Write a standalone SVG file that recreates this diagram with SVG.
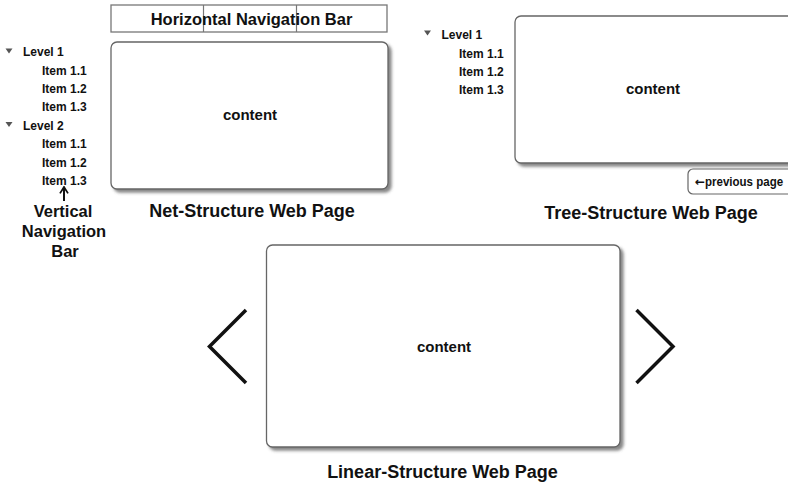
<svg xmlns="http://www.w3.org/2000/svg" width="788" height="483" viewBox="0 0 788 483">
  <style>
    text { font-family: "Liberation Sans", Arial, sans-serif; fill: #111; }
    .nav { font-size: 12px; font-weight: bold; }
    .title { font-size: 18px; font-weight: bold; text-anchor: middle; }
    .content { font-size: 15px; font-weight: bold; text-anchor: middle; }
    .box { fill: #fff; stroke: #666; stroke-width: 1.3; filter: url(#shadow); }
    .frame { fill: #fff; stroke: #777; stroke-width: 1.3; }
    .chev { fill: none; stroke: #111; stroke-width: 3.5; stroke-linecap: butt; stroke-linejoin: miter; }
    .tri { fill: #555; }
  </style>
  <defs>
    <filter id="shadow" x="-5%" y="-5%" width="115%" height="120%">
      <feDropShadow dx="3" dy="3" stdDeviation="1.6" flood-color="#555" flood-opacity="0.7"/>
    </filter>
    <marker id="openHead" viewBox="0 0 10 12" refX="9" refY="6" markerWidth="8" markerHeight="11" orient="auto" markerUnits="userSpaceOnUse">
      <path d="M1,1 L9,6 L1,11" fill="none" stroke="#111" stroke-width="2.2"/>
    </marker>
  </defs>

  <!-- Net-structure page -->
  <g id="net-hnav">
    <rect class="frame" x="111" y="5" width="276" height="27"/>
    <line x1="203.5" y1="5" x2="203.5" y2="32" stroke="#777" stroke-width="1.2"/>
    <line x1="296.5" y1="5" x2="296.5" y2="32" stroke="#777" stroke-width="1.2"/>
    <text x="251.5" y="25" style="font-size:16.5px;font-weight:bold;text-anchor:middle">Horizontal Navigation Bar</text>
  </g>
  <g id="net-content">
    <rect class="box" x="111" y="42" width="277" height="147" rx="6"/>
    <text class="content" x="250" y="120">content</text>
  </g>
  <g id="net-vnav">
    <path class="tri" d="M5.5,48.5 L12.5,48.5 L9,53.5 Z"/>
    <text class="nav" x="23" y="56">Level 1</text>
    <text class="nav" x="42" y="75">Item 1.1</text>
    <text class="nav" x="42" y="93">Item 1.2</text>
    <text class="nav" x="42" y="111">Item 1.3</text>
    <path class="tri" d="M5.5,122 L12.5,122 L9,127 Z"/>
    <text class="nav" x="23" y="129.5">Level 2</text>
    <text class="nav" x="42" y="148">Item 1.1</text>
    <text class="nav" x="42" y="166.5">Item 1.2</text>
    <text class="nav" x="42" y="185">Item 1.3</text>
  </g>
  <g id="net-vnav-label">
    <text x="63" y="217" style="font-size:16.5px;font-weight:bold;text-anchor:middle">Vertical</text>
    <text x="64" y="237" style="font-size:16.5px;font-weight:bold;text-anchor:middle">Navigation</text>
    <text x="65" y="257" style="font-size:16.5px;font-weight:bold;text-anchor:middle">Bar</text>
  </g>
  <g id="connectors">
    <line x1="64" y1="201" x2="64" y2="187" stroke="#111" stroke-width="2" marker-end="url(#openHead)"/>
  </g>
  <text class="title" x="252" y="217">Net-Structure Web Page</text>

  <!-- Tree-structure page -->
  <g id="tree-nav">
    <path class="tri" d="M424,30.5 L431,30.5 L427.5,35.5 Z"/>
    <text class="nav" x="441.5" y="39">Level 1</text>
    <text class="nav" x="459" y="57.5">Item 1.1</text>
    <text class="nav" x="459" y="75.5">Item 1.2</text>
    <text class="nav" x="459" y="94">Item 1.3</text>
  </g>
  <g id="tree-content">
    <rect class="box" x="515" y="16" width="290" height="147" rx="6"/>
    <text class="content" x="653" y="94">content</text>
  </g>
  <g id="tree-back">
    <rect x="688" y="169" width="110" height="25" rx="5" fill="#fff" stroke="#666" stroke-width="1.2"/>
    <text x="695" y="186" style="font-size:12px;font-weight:bold"><tspan style="font-family:'DejaVu Sans',sans-serif;font-size:12px">←</tspan><tspan textLength="78" lengthAdjust="spacingAndGlyphs">previous  page</tspan></text>
  </g>
  <text class="title" x="651" y="219">Tree-Structure Web Page</text>

  <!-- Linear-structure page -->
  <g id="linear-content">
    <rect class="box" x="266.5" y="245" width="353.5" height="202" rx="6"/>
    <text class="content" x="444" y="352">content</text>
  </g>
  <g id="linear-prev">
    <path class="chev" d="M246,310 L209.5,346.5 L246,383"/>
  </g>
  <g id="linear-next">
    <path class="chev" d="M636.5,310 L673,346.5 L636.5,383"/>
  </g>
  <text class="title" x="442.5" y="478">Linear-Structure Web Page</text>
</svg>
